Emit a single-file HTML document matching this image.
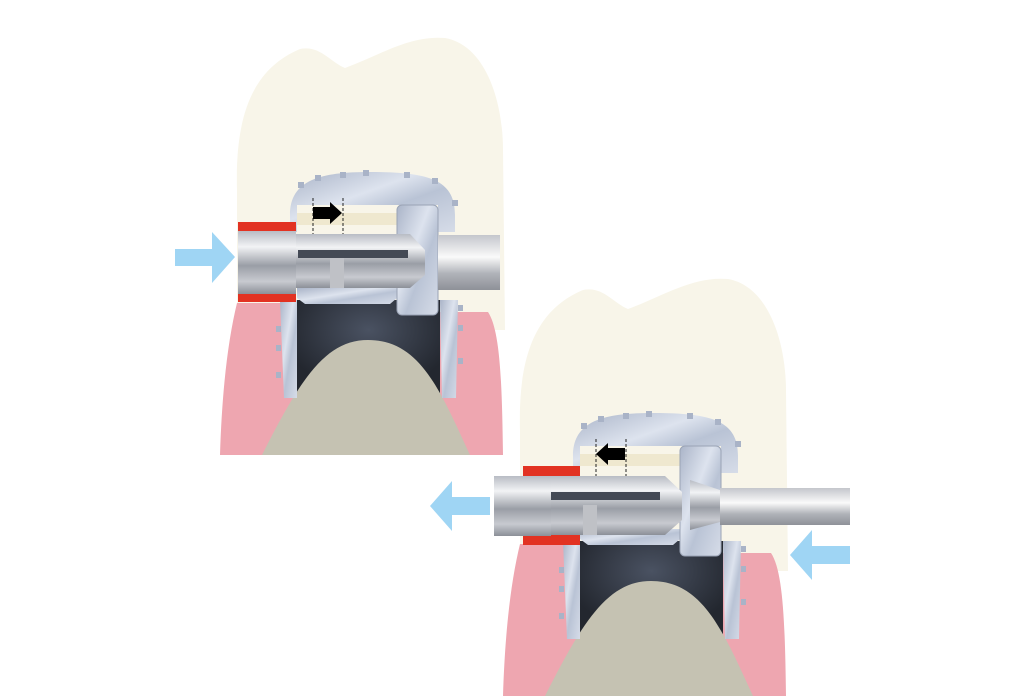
<!DOCTYPE html>
<html><head><meta charset="utf-8"><style>html,body{margin:0;padding:0;background:#fff}svg{display:block}</style></head>
<body>
<svg width="1024" height="700" viewBox="0 0 1024 700" xmlns="http://www.w3.org/2000/svg">
<defs>
<linearGradient id="met" x1="0" y1="0" x2="1" y2="1">
<stop offset="0" stop-color="#aab4c8"/><stop offset="0.4" stop-color="#dde3ee"/><stop offset="0.6" stop-color="#b9c3d5"/><stop offset="1" stop-color="#d6dce8"/></linearGradient>
<linearGradient id="tube" x1="0" y1="0" x2="0" y2="1">
<stop offset="0" stop-color="#b8bcc4"/><stop offset="0.25" stop-color="#f2f3f5"/><stop offset="0.55" stop-color="#9a9ea6"/><stop offset="0.8" stop-color="#c8cad0"/><stop offset="1" stop-color="#8c9098"/></linearGradient>
<linearGradient id="rod" x1="0" y1="0" x2="0" y2="1">
<stop offset="0" stop-color="#c4c6cc"/><stop offset="0.4" stop-color="#fafafa"/><stop offset="0.7" stop-color="#b0b3b9"/><stop offset="1" stop-color="#8e9198"/></linearGradient>
<radialGradient id="cav" cx="0.5" cy="0.3" r="0.6"><stop offset="0" stop-color="#4a5262"/><stop offset="1" stop-color="#23272f"/></radialGradient>
<g id="tooth">
<path d="M237 190 C235 120 250 70 300 49 C320 45 330 62 345 68 C380 55 410 35 445 38 C485 45 503 100 503 150 L505 330 L237 330 Z" fill="#f8f5e9"/>
<path d="M237 303 L300 303 L300 312 L488 312 C500 330 502 380 503 455 L220 455 C222 390 228 340 237 303 Z" fill="#eea6b0"/>
<path d="M297 300 L440 300 L440 400 L297 400 Z" fill="url(#cav)"/>
<path d="M262 455 C300 380 325 340 368 340 C420 340 440 390 470 455 Z" fill="#c5c2b2"/>
<path d="M290 215 C290 180 320 172 370 172 C430 172 455 180 455 215 L455 232 L438 232 L438 205 L297 205 L297 232 L290 232 Z" fill="url(#met)"/>
<g fill="#a9b3c7"><rect x="298" y="182" width="6" height="6"/><rect x="315" y="175" width="6" height="6"/><rect x="340" y="172" width="6" height="6"/><rect x="363" y="170" width="6" height="6"/><rect x="404" y="172" width="6" height="6"/><rect x="432" y="178" width="6" height="6"/><rect x="452" y="200" width="6" height="6"/></g>
<path d="M280 300 L297 300 L297 398 L284 398 Z" fill="url(#met)"/>
<path d="M440 300 L458 300 L456 398 L442 398 Z" fill="url(#met)"/>
<g fill="#a9b3c7"><rect x="276" y="326" width="5" height="6"/><rect x="276" y="345" width="5" height="6"/><rect x="276" y="372" width="5" height="6"/><rect x="458" y="305" width="5" height="6"/><rect x="458" y="325" width="5" height="6"/><rect x="458" y="358" width="5" height="6"/></g>
<rect x="297" y="213" width="102" height="12" fill="#efe8cf"/>
<path d="M297 288 L397 288 L397 298 L390 304 L305 304 L297 298 Z" fill="url(#met)"/>
<rect x="397" y="205" width="41" height="110" rx="5" fill="url(#met)" stroke="#9aa3b5" stroke-width="1"/>
<line x1="313" y1="198" x2="313" y2="240" stroke="#222" stroke-dasharray="3,2"/>
<line x1="343" y1="198" x2="343" y2="240" stroke="#222" stroke-dasharray="3,2"/>
</g>
</defs>

<use href="#tooth"/>
<rect x="438" y="235" width="62" height="55" fill="url(#rod)"/>
<rect x="238" y="222" width="58" height="12" fill="#e23222"/>
<rect x="238" y="290" width="58" height="12" fill="#e23222"/>
<rect x="238" y="231" width="58" height="63" fill="url(#tube)"/>
<path d="M296 234 L410 234 L425 250 L425 275 L410 288 L296 288 Z" fill="url(#tube)"/>
<rect x="298" y="250" width="110" height="8" fill="#444a55"/>
<rect x="330" y="258" width="14" height="30" fill="#bfc1c6"/>
<path d="M313 207 L330 207 L330 202 L342 213 L330 224 L330 219 L313 219 Z" fill="#000"/>
<path d="M175 249 L212 249 L212 232 L235 257 L212 283 L212 266 L175 266 Z" fill="#9fd5f4"/>

<use href="#tooth" transform="translate(283,241)"/>
<path d="M720 488 L850 488 L850 525 L720 525 Z" fill="url(#rod)"/>
<path d="M690 480 L720 490 L720 522 L690 530 Z" fill="url(#tube)"/>
<rect x="523" y="466" width="57" height="12" fill="#e23222"/>
<rect x="523" y="533" width="57" height="12" fill="#e23222"/>
<path d="M550 476 L665 476 L682 492 L682 520 L665 535 L550 535 Z" fill="url(#tube)"/>
<rect x="550" y="492" width="110" height="8" fill="#444a55"/>
<rect x="583" y="505" width="14" height="30" fill="#bfc1c6"/>
<rect x="494" y="476" width="57" height="60" fill="url(#tube)"/>
<path d="M625 448 L608 448 L608 443 L596 454 L608 465 L608 460 L625 460 Z" fill="#000"/>
<path d="M490 497 L452 497 L452 481 L430 506 L452 531 L452 515 L490 515 Z" fill="#9fd5f4"/>
<path d="M850 546 L812 546 L812 530 L790 555 L812 580 L812 564 L850 564 Z" fill="#9fd5f4"/>
</svg>
</body></html>
